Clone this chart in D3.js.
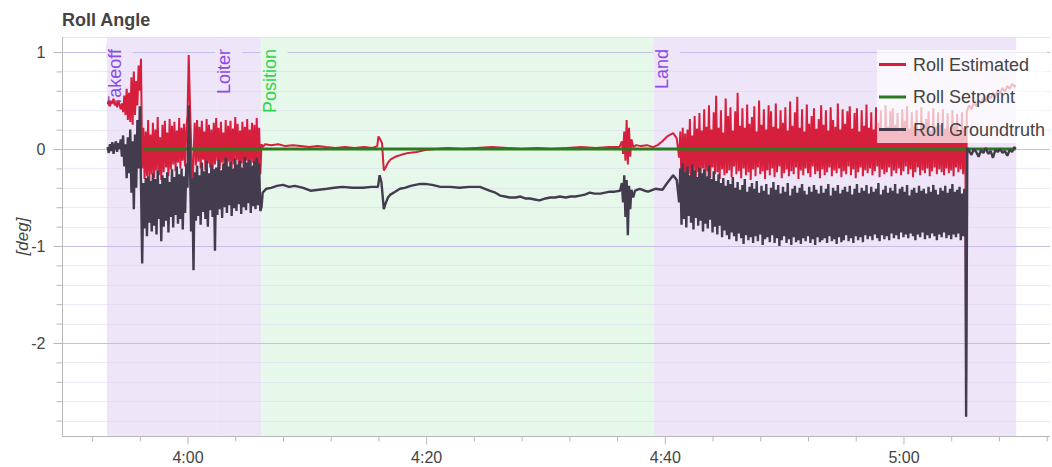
<!DOCTYPE html>
<html>
<head>
<meta charset="utf-8">
<script src="https://cdnjs.cloudflare.com/ajax/libs/d3/7.8.5/d3.min.js"></script>
<style>
  html, body { margin: 0; padding: 0; background: #ffffff; }
  svg { display: block; font-family: "Liberation Sans", Arial, Helvetica, sans-serif; }
</style>
</head>
<body>
<svg id="chart" width="1052" height="467"></svg>
<script>
// ---- chart text ----
const chartTitle = "Roll Angle";
const yAxisLabel = "[deg]";
const seriesNames = ["Roll Estimated", "Roll Setpoint", "Roll Groundtruth"];

// ---- flight modes (times in seconds since boot) ----
const modeNames = ["Takeoff", "Loiter", "Position", "Land"];
const modeStarts = [233.25, 242.4, 246.2, 279.1];
const modeEnd = 309.45;
const modeKinds = ["auto", "auto", "manual", "auto"];

// ---- axis ticks ----
const xTickValues = [240, 260, 280, 300];
const xTickLabels = ["4:00", "4:20", "4:40", "5:00"];
const yTickValues = [-2, -1, 0, 1];
const yTickLabels = ["-2", "-1", "0", "1"];

// ---- logged samples ----
const denseStep = 0.1; // s, logger rate in the dense blocks

// Roll Estimated
const estTakeoffStart = 233.3;
const estTakeoff = [0.46, 0.50, 0.44, 0.49, 0.47, 0.52, 0.45, 0.48, 0.43, 0.50,
  0.46, 0.41, 0.47, 0.38, 0.55, 0.35, 0.62, 0.30, 0.58, 0.28,
  0.74, 0.25, 0.80, 0.35, 0.70, 0.45, 0.86, 0.60, 0.93];
const estLoiterStart = 236.2;
const estLoiter = [-0.20, 0.22, -0.31, 0.18, -0.28, 0.30, -0.33, 0.15, -0.26, 0.27,
  -0.30, 0.20, -0.22, 0.33, -0.27, 0.12, -0.32, 0.25, -0.24, 0.29,
  -0.19, 0.17, -0.28, 0.31, -0.21, 0.24, -0.16, 0.28, -0.23, 0.19,
  -0.14, 0.32, -0.20, 0.22, -0.12, 0.26, -0.18, 0.21, 0.35, 0.97,
  0.48, 0.05, -0.45, -0.10, 0.27, -0.17, 0.30, -0.13, 0.23, -0.20,
  0.29, -0.11, 0.18, -0.22, 0.31, -0.15, 0.25, -0.19, 0.20, -0.24,
  0.27, -0.16, 0.32, -0.12, 0.22, -0.21, 0.28, -0.14, 0.17, -0.18,
  0.30, -0.23, 0.24, -0.13, 0.29, -0.20, 0.21, -0.16, 0.33, -0.11,
  0.26, -0.22, 0.19, -0.15, 0.28, -0.19, 0.23, -0.12, 0.31, -0.24,
  0.20, -0.17, 0.27, -0.14, 0.25, -0.21, 0.32, -0.18, 0.22, -0.26, 0.05];
const estPosition = [[246.3, 0.02], [246.5, 0.05], [247.0, 0.04], [247.6, 0.05], [248.2, 0.03],
  [248.8, 0.04], [249.5, 0.03], [250.2, 0.02], [250.9, 0.03], [251.6, 0.02], [252.4, 0.01],
  [253.2, 0.02], [254.0, 0.01], [254.8, 0.02], [255.5, 0.01], [255.9, 0.03], [256.0, 0.13],
  [256.15, 0.10], [256.3, 0.06], [256.45, -0.22], [256.6, -0.19], [256.8, -0.14], [257.0, -0.11],
  [257.4, -0.08], [257.9, -0.06], [258.5, -0.04], [259.2, -0.03], [259.9, -0.01], [260.8, 0.0],
  [261.8, 0.01], [263.0, 0.0], [264.2, 0.01], [265.5, 0.02], [266.8, 0.01], [268.0, 0.0],
  [269.3, 0.01], [270.5, 0.0], [271.8, 0.01], [273.0, 0.02], [274.2, 0.01], [275.4, 0.02],
  [276.2, 0.02], [276.4, 0.08], [276.5, -0.05], [276.6, 0.18], [276.7, -0.12], [276.8, 0.30],
  [276.9, -0.16], [277.0, 0.22], [277.1, -0.08], [277.2, 0.10], [277.35, 0.02], [277.6, 0.04],
  [278.0, 0.03], [278.5, 0.04], [279.0, 0.02], [279.4, 0.04], [279.8, 0.08], [280.2, 0.13],
  [280.7, 0.165], [281.0, 0.11], [281.2, -0.09]];
const estLandStart = 281.3;
const estLand = [0.18, -0.38, 0.22, -0.30, 0.16, -0.33, 0.20, -0.26, 0.31, -0.29, 0.14, -0.22, 0.34, -0.31, 0.21, -0.24, 0.37, -0.27, 0.19, -0.20,
  0.41, -0.28, 0.23, -0.23, 0.45, -0.30, 0.20, -0.19, 0.38, -0.26, 0.55, -0.24, 0.22, -0.31, 0.40, -0.21, 0.17, -0.27, 0.52, -0.25,
  0.34, -0.22, 0.43, -0.29, 0.19, -0.18, 0.39, -0.26, 0.58, -0.23, 0.24, -0.30, 0.42, -0.20, 0.22, -0.27, 0.46, -0.24, 0.26, -0.32,
  0.33, -0.21, 0.44, -0.28, 0.18, -0.19, 0.50, -0.26, 0.25, -0.23, 0.41, -0.31, 0.20, -0.22, 0.45, -0.27, 0.39, -0.20, 0.23, -0.29,
  0.47, -0.24, 0.21, -0.18, 0.40, -0.30, 0.27, -0.25, 0.43, -0.21, 0.19, -0.28, 0.49, -0.23, 0.24, -0.26, 0.38, -0.19, 0.54, -0.31,
  0.22, -0.22, 0.41, -0.27, 0.18, -0.20, 0.46, -0.25, 0.26, -0.29, 0.34, -0.18, 0.42, -0.26, 0.21, -0.23, 0.31, -0.30, 0.45, -0.21,
  0.25, -0.27, 0.40, -0.24, 0.19, -0.19, 0.43, -0.28, 0.30, -0.22, 0.23, -0.25, 0.47, -0.20, 0.20, -0.29, 0.41, -0.23, 0.26, -0.26,
  0.39, -0.18, 0.44, -0.27, 0.21, -0.21, 0.37, -0.30, 0.42, -0.24, 0.18, -0.19, 0.40, -0.28, 0.24, -0.22, 0.46, -0.25, 0.22, -0.20,
  0.38, -0.27, 0.20, -0.23, 0.43, -0.18, 0.27, -0.29, 0.40, -0.21, 0.19, -0.26, 0.45, -0.24, 0.23, -0.19, 0.39, -0.28, 0.42, -0.22,
  0.25, -0.25, 0.37, -0.20, 0.18, -0.27, 0.41, -0.23, 0.29, -0.18, 0.44, -0.26, 0.21, -0.21, 0.38, -0.29, 0.24, -0.24, 0.40, -0.19,
  0.20, -0.27, 0.43, -0.22, 0.26, -0.25, 0.31, -0.20, 0.39, -0.28, 0.19, -0.23, 0.42, -0.19, 0.23, -0.26, 0.38, -0.21, 0.25, -0.24,
  0.41, -0.27, 0.21, -0.20, 0.37, -0.25, 0.18, -0.22, 0.40, -0.28, 0.24, -0.19, 0.36, -0.24, 0.20, -0.21, 0.38, -0.26, 0.22, -0.30];
const estLanded = [[305.25, -2.40], [305.3, 0.38], [305.5, 0.45], [305.7, 0.41], [305.9, 0.48],
  [306.1, 0.44], [306.3, 0.50], [306.5, 0.47], [306.7, 0.53], [306.9, 0.49], [307.1, 0.56],
  [307.3, 0.52], [307.5, 0.58], [307.7, 0.54], [307.9, 0.61], [308.1, 0.57], [308.3, 0.63],
  [308.5, 0.59], [308.7, 0.65], [308.9, 0.62], [309.1, 0.67], [309.3, 0.64], [309.4, 0.66]];

// Roll Setpoint
const setpointTimes = [236.3, 309.4];
const setpointValues = [0, 0];

// Roll Groundtruth
const gtTakeoffStart = 233.3;
const gtTakeoff = [0.02, -0.04, 0.05, -0.02, 0.07, -0.05, 0.03, 0.08, -0.03, 0.06,
  0.00, 0.10, -0.08, 0.14, -0.18, 0.05, -0.30, 0.12, -0.25, 0.20,
  -0.45, 0.08, -0.62, 0.15, -0.40, 0.30, -0.20, 0.44, -0.35];
const gtLoiterStart = 236.2;
const gtLoiter = [-1.18, -0.35, -0.82, -0.30, -0.90, -0.28, -0.76, -0.33, -0.85, -0.25,
  -0.79, -0.31, -0.88, -0.22, -0.72, -0.36, -0.95, -0.27, -0.80, -0.30,
  -0.74, -0.24, -0.86, -0.34, -0.70, -0.21, -0.81, -0.29, -0.68, -0.18,
  -0.77, -0.26, -0.72, -0.20, -0.83, -0.28, -0.66, -0.15, -0.40, 0.45,
  -0.10, -0.85, -0.30, -1.25, -0.24, -0.74, -0.17, -0.69, -0.27, -0.78,
  -0.14, -0.65, -0.23, -0.72, -0.12, -0.80, -0.25, -0.63, -0.16, -0.70,
  -0.21, -1.05, -0.19, -0.68, -0.11, -0.62, -0.22, -0.71, -0.15, -0.60,
  -0.09, -0.66, -0.18, -0.58, -0.13, -0.69, -0.20, -0.61, -0.10, -0.64,
  -0.16, -0.57, -0.12, -0.67, -0.19, -0.60, -0.08, -0.63, -0.14, -0.56,
  -0.11, -0.66, -0.17, -0.59, -0.12, -0.62, -0.09, -0.58, -0.15, -0.64, -0.60];
const gtPosition = [[246.3, -0.45], [246.6, -0.41], [247.0, -0.40], [247.5, -0.38], [248.0, -0.37],
  [248.5, -0.39], [249.0, -0.38], [249.7, -0.40], [250.3, -0.43], [251.0, -0.42], [251.7, -0.41],
  [252.3, -0.40], [253.0, -0.39], [253.8, -0.40], [254.7, -0.40], [255.4, -0.39], [255.96, -0.39],
  [256.1, -0.27], [256.25, -0.34], [256.45, -0.62], [256.6, -0.56], [256.8, -0.50], [257.0, -0.47],
  [257.4, -0.44], [257.8, -0.41], [258.2, -0.40], [258.7, -0.38], [259.1, -0.37], [259.5, -0.36],
  [259.9, -0.36], [260.5, -0.37], [261.2, -0.39], [262.0, -0.39], [262.8, -0.40], [263.6, -0.39],
  [264.5, -0.39], [265.3, -0.43], [265.8, -0.45], [266.2, -0.48], [266.6, -0.49], [267.0, -0.50],
  [267.5, -0.50], [267.9, -0.49], [268.3, -0.51], [268.7, -0.51], [269.1, -0.52], [269.5, -0.53],
  [270.0, -0.51], [270.4, -0.50], [270.8, -0.50], [271.2, -0.49], [271.7, -0.50], [272.1, -0.49],
  [272.5, -0.49], [272.9, -0.48], [273.3, -0.47], [273.7, -0.45], [274.1, -0.46], [274.6, -0.46],
  [275.0, -0.45], [275.4, -0.44], [275.8, -0.44], [276.25, -0.43], [276.4, -0.35], [276.5, -0.55],
  [276.6, -0.27], [276.7, -0.70], [276.8, -0.32], [276.9, -0.89], [277.0, -0.38], [277.1, -0.62],
  [277.2, -0.42], [277.35, -0.50], [277.5, -0.43], [277.9, -0.41], [278.3, -0.43], [278.6, -0.44],
  [279.2, -0.41], [279.8, -0.42], [280.2, -0.35], [280.7, -0.27], [281.0, -0.32], [281.2, -0.55]];
const gtLandStart = 281.3;
const gtLand = [-0.20, -0.78, -0.15, -0.72, -0.24, -0.81, -0.18, -0.69, -0.27, -0.76, -0.16, -0.83, -0.22, -0.71, -0.29, -0.79, -0.19, -0.74, -0.25, -0.85,
  -0.21, -0.77, -0.28, -0.82, -0.17, -0.73, -0.31, -0.86, -0.23, -0.80, -0.33, -0.88, -0.26, -0.79, -0.35, -0.91, -0.30, -0.84, -0.38, -0.89,
  -0.32, -0.93, -0.36, -0.86, -0.29, -0.90, -0.40, -0.95, -0.34, -0.87, -0.42, -0.92, -0.37, -0.98, -0.31, -0.89, -0.44, -0.94, -0.39, -0.91,
  -0.35, -0.97, -0.41, -0.90, -0.33, -0.95, -0.45, -0.88, -0.38, -0.99, -0.43, -0.93, -0.36, -0.91, -0.47, -0.96, -0.40, -0.89, -0.34, -0.97,
  -0.42, -0.92, -0.37, -1.00, -0.46, -0.94, -0.39, -0.90, -0.44, -0.97, -0.35, -0.93, -0.48, -0.99, -0.41, -0.91, -0.38, -0.96, -0.45, -0.94,
  -0.40, -0.98, -0.36, -0.92, -0.43, -0.95, -0.47, -0.90, -0.39, -0.97, -0.44, -0.93, -0.37, -0.99, -0.42, -0.91, -0.46, -0.96, -0.38, -0.94,
  -0.45, -0.92, -0.41, -0.97, -0.36, -0.90, -0.48, -0.95, -0.40, -0.93, -0.43, -0.98, -0.37, -0.91, -0.46, -0.96, -0.42, -0.94, -0.39, -0.89,
  -0.44, -0.95, -0.38, -0.92, -0.47, -0.97, -0.41, -0.90, -0.36, -0.94, -0.45, -0.91, -0.40, -0.96, -0.43, -0.89, -0.37, -0.93, -0.46, -0.90,
  -0.39, -0.94, -0.44, -0.88, -0.41, -0.92, -0.35, -0.95, -0.47, -0.89, -0.42, -0.93, -0.38, -0.90, -0.45, -0.94, -0.40, -0.87, -0.43, -0.92,
  -0.36, -0.89, -0.46, -0.93, -0.41, -0.86, -0.39, -0.91, -0.44, -0.88, -0.37, -0.92, -0.48, -0.87, -0.42, -0.90, -0.40, -0.94, -0.45, -0.88,
  -0.38, -0.91, -0.43, -0.86, -0.41, -0.93, -0.46, -0.89, -0.39, -0.92, -0.44, -0.87, -0.37, -0.90, -0.42, -0.94, -0.47, -0.88, -0.40, -0.91,
  -0.43, -0.86, -0.38, -0.92, -0.45, -0.89, -0.41, -0.93, -0.36, -0.88, -0.44, -0.91, -0.42, -0.87, -0.39, -0.94, -0.46, -0.90, -0.41, -0.88];
const gtLanded = [[305.25, -2.76], [305.35, 0.01], [305.5, -0.02], [305.7, -0.06], [305.9, 0.00],
  [306.1, -0.03], [306.3, -0.08], [306.5, -0.01], [306.7, -0.04], [306.9, 0.01], [307.1, -0.05],
  [307.3, -0.02], [307.5, -0.09], [307.7, -0.01], [307.9, -0.03], [308.1, 0.00], [308.3, -0.04],
  [308.5, -0.02], [308.7, -0.07], [308.9, -0.01], [309.1, -0.03], [309.3, 0.02], [309.4, 0.00]];

// ---- assemble series ----
function sampled(t0, values) {
  return values.map((v, i) => [t0 + i * denseStep, v]);
}
const estimated = [].concat(
  sampled(estTakeoffStart, estTakeoff), sampled(estLoiterStart, estLoiter),
  estPosition, sampled(estLandStart, estLand), estLanded);
const setpoint = setpointTimes.map((t, i) => [t, setpointValues[i]]);
const groundtruth = [].concat(
  sampled(gtTakeoffStart, gtTakeoff), sampled(gtLoiterStart, gtLoiter),
  gtPosition, sampled(gtLandStart, gtLand), gtLanded);

// ---- layout & style ----
const plot = { left: 62, right: 1050, top: 37, bottom: 436 };
const seriesColors = ["#d61f3c", "#2b7a1e", "#433c4d"];
const seriesWidths = [2, 3, 2.4];
const modeFill = { auto: "#eee5f8", manual: "#e6f8ea" };
const modeText = { auto: "#8a4be6", manual: "#33d24e" };
const textColor = "#444444";

const x = d3.scaleLinear().domain([229.48, 312.28]).range([plot.left, plot.right]);
const y = d3.scaleLinear().domain([-2.959, 1.155]).range([plot.bottom, plot.top]);

const svg = d3.select("#chart");

svg.append("defs").append("clipPath").attr("id", "plot-clip")
  .append("rect")
  .attr("x", plot.left).attr("y", plot.top)
  .attr("width", plot.right - plot.left).attr("height", plot.bottom - plot.top);

// title
svg.append("text")
  .attr("x", plot.left).attr("y", 26)
  .attr("font-size", 18).attr("font-weight", "bold")
  .attr("fill", textColor)
  .text(chartTitle);

const body = svg.append("g").attr("clip-path", "url(#plot-clip)");

// flight mode background bands
const modeSpans = modeNames.map((name, i) => ({
  name, kind: modeKinds[i], start: modeStarts[i],
  end: i + 1 < modeStarts.length ? modeStarts[i + 1] : modeEnd
}));
body.selectAll("rect.mode").data(modeSpans).join("rect")
  .attr("class", "mode")
  .attr("x", d => x(d.start))
  .attr("y", plot.top)
  .attr("width", d => x(d.end) - x(d.start))
  .attr("height", plot.bottom - plot.top)
  .attr("fill", d => modeFill[d.kind]);

// horizontal grid: minor every 0.2, major on integers
const minorY = d3.range(-14, 6).map(k => k / 5).filter(v => Math.abs(v - Math.round(v)) > 1e-6);
body.selectAll("line.minor-grid").data(minorY).join("line")
  .attr("x1", plot.left).attr("x2", plot.right)
  .attr("y1", d => Math.round(y(d)) + 0.5).attr("y2", d => Math.round(y(d)) + 0.5)
  .attr("stroke", "#dcdaf0").attr("stroke-opacity", 0.6).attr("stroke-width", 1);
body.selectAll("line.major-grid").data(yTickValues).join("line")
  .attr("x1", plot.left).attr("x2", plot.right)
  .attr("y1", d => Math.round(y(d)) + 0.5).attr("y2", d => Math.round(y(d)) + 0.5)
  .attr("stroke", "#c3bfe9").attr("stroke-width", 1);

// flight mode labels (drawn beneath the data)
const labelTop = 49;
const labels = body.selectAll("g.mode-label").data(modeSpans).join("g")
  .attr("class", "mode-label");
labels.append("rect")
  .attr("x", d => x(d.start) - 1)
  .attr("y", 44)
  .attr("width", 27)
  .attr("height", 14)
  .attr("fill", d => modeFill[d.kind]);
labels.append("text")
  .attr("transform", d => `translate(${x(d.start) + 14},${labelTop}) rotate(-90)`)
  .attr("text-anchor", "end")
  .attr("font-size", 18)
  .attr("fill", d => modeText[d.kind])
  .text(d => d.name);

// data lines
const line = d3.line().x(d => x(d[0])).y(d => y(d[1]));
[estimated, setpoint, groundtruth].forEach((data, i) => {
  body.append("path")
    .datum(data)
    .attr("d", line)
    .attr("fill", "none")
    .attr("stroke", seriesColors[i])
    .attr("stroke-width", seriesWidths[i])
    .attr("stroke-linejoin", "bevel");
});

// top frame line
svg.append("line")
  .attr("x1", plot.left).attr("x2", plot.right)
  .attr("y1", plot.top + 0.5).attr("y2", plot.top + 0.5)
  .attr("stroke", "#e4e4e4");

// axes
const yAxis = d3.axisLeft(y)
  .tickValues(yTickValues)
  .tickFormat((d, i) => yTickLabels[i])
  .tickSize(9).tickPadding(8);
const yAxisG = svg.append("g")
  .attr("transform", `translate(${plot.left + 0.5},0)`)
  .call(yAxis);
const yMinor = d3.axisLeft(y).tickValues(minorY).tickSize(6).tickFormat("");
svg.append("g").attr("transform", `translate(${plot.left + 0.5},0)`).call(yMinor)
  .call(g => g.select(".domain").remove());

const xMinorTicks = d3.range(232, 313, 4).filter(t => !xTickValues.includes(t));
const xAxis = d3.axisBottom(x)
  .tickValues(xTickValues)
  .tickFormat((d, i) => xTickLabels[i])
  .tickSize(8).tickPadding(7);
const xAxisG = svg.append("g")
  .attr("transform", `translate(0,${plot.bottom + 0.5})`)
  .call(xAxis);
const xMinor = d3.axisBottom(x).tickValues(xMinorTicks).tickSize(5).tickFormat("");
svg.append("g").attr("transform", `translate(0,${plot.bottom + 0.5})`).call(xMinor)
  .call(g => g.select(".domain").remove());

svg.selectAll(".domain").attr("stroke", "#b8b8b8");
svg.selectAll(".tick line").attr("stroke", "#b8b8b8");
svg.selectAll(".tick text")
  .attr("font-size", 16)
  .attr("font-family", "\"Liberation Sans\", Arial, sans-serif")
  .attr("fill", textColor);
// plain axis lines without end caps
yAxisG.select(".domain").attr("d", `M0,${plot.top}V${plot.bottom}`);
xAxisG.select(".domain").attr("d", `M${plot.left},0H${plot.right}`);

// y axis title
svg.append("text")
  .attr("transform", `translate(28,${(plot.top + plot.bottom) / 2}) rotate(-90)`)
  .attr("text-anchor", "middle")
  .attr("font-size", 17)
  .attr("font-style", "italic")
  .attr("fill", textColor)
  .text(yAxisLabel);

// legend
const legend = svg.append("g");
legend.append("rect")
  .attr("x", 877).attr("y", 50)
  .attr("width", 170).attr("height", 93)
  .attr("fill", "#ffffff").attr("fill-opacity", 0.7);
const legendRows = legend.selectAll("g.row").data(seriesNames).join("g")
  .attr("transform", (d, i) => `translate(879,${64.5 + i * 32.5})`);
legendRows.append("line")
  .attr("x1", 0).attr("x2", 27)
  .attr("stroke", (d, i) => seriesColors[i])
  .attr("stroke-width", 3);
legendRows.append("text")
  .attr("x", 34).attr("y", 6)
  .attr("font-size", 18)
  .attr("fill", textColor)
  .text(d => d);
</script>
</body>
</html>
